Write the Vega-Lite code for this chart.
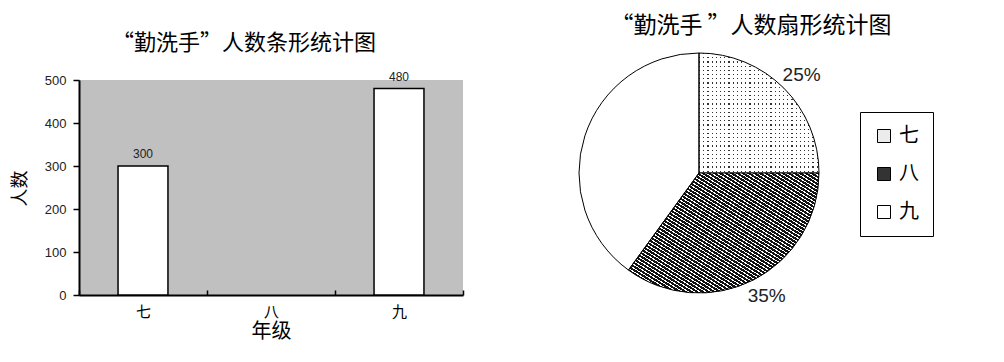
{
  "$schema": "https://vega.github.io/schema/vega-lite/v6.json",
  "padding": {"left": 11, "top": 15, "right": 5, "bottom": 5},
  "background": "white",
  "bounds": "flush",
  "spacing": 116,
  "config": {
    "view": {"stroke": null},
    "font": "Noto Sans CJK SC",
    "title": {"font": "Noto Sans CJK SC", "fontWeight": "normal", "color": "#000"},
    "legend": {
      "orient": "none", "legendX": 781, "legendY": 32, "direction": "vertical",
      "symbolType": "square", "symbolSize": 169, "symbolStrokeColor": "#000", "symbolStrokeWidth": 1,
      "labelFont": "Noto Sans CJK SC", "labelFontSize": 20, "labelColor": "#000", "labelOffset": 5,
      "strokeColor": "#000", "padding": 14, "rowPadding": 18
    }
  },
  "datasets": {
    "bars": [
      {"grade": "七", "count": 300},
      {"grade": "九", "count": 480}
    ],
    "pie": [
      {"grade": "七", "ord": 1, "pct": 25, "label": "25%"},
      {"grade": "八", "ord": 2, "pct": 35, "label": "35%"},
      {"grade": "九", "ord": 3, "pct": 40, "label": ""}
    ]
  },
  "hconcat": [
    {
      "width": 384,
      "height": 215,
      "view": {"fill": "#c0c0c0", "stroke": null},
      "title": {"text": "“勤洗手”人数条形统计图", "fontSize": 22, "frame": "group", "anchor": "middle", "dx": -27, "offset": 16},
      "data": {"name": "bars"},
      "encoding": {
        "x": {
          "field": "grade", "type": "nominal", "title": "年级",
          "scale": {"domain": ["七", "八", "九"], "paddingInner": 0, "paddingOuter": 0},
          "axis": {
            "labelAngle": 0, "labelFont": "Noto Sans CJK SC", "labelFontSize": 15, "labelColor": "#000",
            "domainColor": "#000", "domainWidth": 2, "tickColor": "#000", "tickWidth": 1.5, "tickSize": -5,
            "tickBand": "extent", "labelPadding": 14,
            "titleFont": "Noto Sans CJK SC", "titleFontSize": 20, "titleFontWeight": "normal", "titleColor": "#000",
            "titleY": 26, "titleBaseline": "top"
          }
        },
        "y": {
          "field": "count", "type": "quantitative", "title": "人数",
          "scale": {"domain": [0, 500], "nice": false},
          "axis": {
            "values": [0, 100, 200, 300, 400, 500], "grid": false,
            "domainColor": "#000", "domainWidth": 2, "tickColor": "#000", "tickSize": 6, "tickWidth": 1.5,
            "labelFont": "Liberation Sans", "labelFontSize": 13, "labelColor": "#222", "labelPadding": 7,
            "titleFont": "Noto Sans CJK SC", "titleFontSize": 18, "titleFontWeight": "normal", "titleColor": "#000",
            "titleX": -59, "titleY": 108, "titleBaseline": "middle", "titleAngle": -90
          }
        }
      },
      "layer": [
        {"mark": {"type": "bar", "fill": "white", "stroke": "#000", "strokeWidth": 1.5, "width": {"band": 0.39}}},
        {"mark": {"type": "text", "baseline": "bottom", "dy": -5, "font": "Liberation Sans", "fontSize": 12, "color": "#222"},
         "encoding": {"text": {"field": "count"}}}
      ]
    },
    {
      "width": 240,
      "height": 186,
      "title": {"text": "“勤洗手 ”人数扇形统计图", "fontSize": 23, "frame": "group", "anchor": "middle", "dx": 52, "offset": 13},
      "data": {"name": "pie"},
      "encoding": {
        "theta": {"field": "pct", "type": "quantitative", "stack": true},
        "order": {"field": "ord", "type": "quantitative"}
      },
      "layer": [
        {
          "mark": {"type": "arc", "outerRadius": 120},
          "encoding": {
            "color": {
              "field": "grade", "type": "nominal",
              "scale": {"domain": ["七", "八", "九"], "range": ["#ececec", "#333333", "#ffffff"]},
              "legend": {"title": null}
            }
          }
        },
        {
          "mark": {
            "type": "arc", "outerRadius": 120,
            "fill": {
              "gradient": "linear", "x1": 0, "y1": 0, "x2": 1, "y2": 0,
              "stops": [
                {"offset":0,"color":"#333"},{"offset":0.01,"color":"#333"},{"offset":0.01,"color":"#fff"},{"offset":0.035,"color":"#fff"},
                {"offset":0.035,"color":"#333"},{"offset":0.045,"color":"#333"},{"offset":0.045,"color":"#fff"},{"offset":0.07,"color":"#fff"},
                {"offset":0.07,"color":"#333"},{"offset":0.08,"color":"#333"},{"offset":0.08,"color":"#fff"},{"offset":0.105,"color":"#fff"},
                {"offset":0.105,"color":"#333"},{"offset":0.115,"color":"#333"},{"offset":0.115,"color":"#fff"},{"offset":0.14,"color":"#fff"},
                {"offset":0.14,"color":"#333"},{"offset":0.15,"color":"#333"},{"offset":0.15,"color":"#fff"},{"offset":0.175,"color":"#fff"},
                {"offset":0.175,"color":"#333"},{"offset":0.185,"color":"#333"},{"offset":0.185,"color":"#fff"},{"offset":0.21,"color":"#fff"},
                {"offset":0.21,"color":"#333"},{"offset":0.22,"color":"#333"},{"offset":0.22,"color":"#fff"},{"offset":0.245,"color":"#fff"},
                {"offset":0.245,"color":"#333"},{"offset":0.255,"color":"#333"},{"offset":0.255,"color":"#fff"},{"offset":0.28,"color":"#fff"},
                {"offset":0.28,"color":"#333"},{"offset":0.29,"color":"#333"},{"offset":0.29,"color":"#fff"},{"offset":0.315,"color":"#fff"},
                {"offset":0.315,"color":"#333"},{"offset":0.325,"color":"#333"},{"offset":0.325,"color":"#fff"},{"offset":0.35,"color":"#fff"},
                {"offset":0.35,"color":"#333"},{"offset":0.36,"color":"#333"},{"offset":0.36,"color":"#fff"},{"offset":0.385,"color":"#fff"},
                {"offset":0.385,"color":"#333"},{"offset":0.395,"color":"#333"},{"offset":0.395,"color":"#fff"},{"offset":0.42,"color":"#fff"},
                {"offset":0.42,"color":"#333"},{"offset":0.43,"color":"#333"},{"offset":0.43,"color":"#fff"},{"offset":0.455,"color":"#fff"},
                {"offset":0.455,"color":"#333"},{"offset":0.465,"color":"#333"},{"offset":0.465,"color":"#fff"},{"offset":0.49,"color":"#fff"},
                {"offset":0.49,"color":"#333"},{"offset":0.5,"color":"#333"},{"offset":0.5,"color":"#fff"},{"offset":0.525,"color":"#fff"},
                {"offset":0.525,"color":"#333"},{"offset":0.535,"color":"#333"},{"offset":0.535,"color":"#fff"},{"offset":0.56,"color":"#fff"},
                {"offset":0.56,"color":"#333"},{"offset":0.57,"color":"#333"},{"offset":0.57,"color":"#fff"},{"offset":0.595,"color":"#fff"},
                {"offset":0.595,"color":"#333"},{"offset":0.605,"color":"#333"},{"offset":0.605,"color":"#fff"},{"offset":0.63,"color":"#fff"},
                {"offset":0.63,"color":"#333"},{"offset":0.64,"color":"#333"},{"offset":0.64,"color":"#fff"},{"offset":0.665,"color":"#fff"},
                {"offset":0.665,"color":"#333"},{"offset":0.675,"color":"#333"},{"offset":0.675,"color":"#fff"},{"offset":0.7,"color":"#fff"},
                {"offset":0.7,"color":"#333"},{"offset":0.71,"color":"#333"},{"offset":0.71,"color":"#fff"},{"offset":0.735,"color":"#fff"},
                {"offset":0.735,"color":"#333"},{"offset":0.745,"color":"#333"},{"offset":0.745,"color":"#fff"},{"offset":0.77,"color":"#fff"},
                {"offset":0.77,"color":"#333"},{"offset":0.78,"color":"#333"},{"offset":0.78,"color":"#fff"},{"offset":0.805,"color":"#fff"},
                {"offset":0.805,"color":"#333"},{"offset":0.815,"color":"#333"},{"offset":0.815,"color":"#fff"},{"offset":0.84,"color":"#fff"},
                {"offset":0.84,"color":"#333"},{"offset":0.85,"color":"#333"},{"offset":0.85,"color":"#fff"},{"offset":0.875,"color":"#fff"},
                {"offset":0.875,"color":"#333"},{"offset":0.885,"color":"#333"},{"offset":0.885,"color":"#fff"},{"offset":0.91,"color":"#fff"},
                {"offset":0.91,"color":"#333"},{"offset":0.92,"color":"#333"},{"offset":0.92,"color":"#fff"},{"offset":0.945,"color":"#fff"},
                {"offset":0.945,"color":"#333"},{"offset":0.955,"color":"#333"},{"offset":0.955,"color":"#fff"},{"offset":0.98,"color":"#fff"},
                {"offset":0.98,"color":"#333"},{"offset":0.99,"color":"#333"},{"offset":0.99,"color":"#fff"},{"offset":1,"color":"#fff"}
              ]
            }
          },
          "encoding": {
            "fillOpacity": {"condition": {"test": "datum.grade === '七'", "value": 1}, "value": 0}
          }
        },
        {
          "mark": {
            "type": "arc", "outerRadius": 120,
            "fill": {
              "gradient": "linear", "x1": 0, "y1": 0, "x2": 0, "y2": 1,
              "stops": [
                {"offset":0,"color":"rgba(255,255,255,0)"},{"offset":0.01,"color":"rgba(255,255,255,0)"},{"offset":0.01,"color":"#fff"},{"offset":0.035,"color":"#fff"},
                {"offset":0.035,"color":"rgba(255,255,255,0)"},{"offset":0.045,"color":"rgba(255,255,255,0)"},{"offset":0.045,"color":"#fff"},{"offset":0.07,"color":"#fff"},
                {"offset":0.07,"color":"rgba(255,255,255,0)"},{"offset":0.08,"color":"rgba(255,255,255,0)"},{"offset":0.08,"color":"#fff"},{"offset":0.105,"color":"#fff"},
                {"offset":0.105,"color":"rgba(255,255,255,0)"},{"offset":0.115,"color":"rgba(255,255,255,0)"},{"offset":0.115,"color":"#fff"},{"offset":0.14,"color":"#fff"},
                {"offset":0.14,"color":"rgba(255,255,255,0)"},{"offset":0.15,"color":"rgba(255,255,255,0)"},{"offset":0.15,"color":"#fff"},{"offset":0.175,"color":"#fff"},
                {"offset":0.175,"color":"rgba(255,255,255,0)"},{"offset":0.185,"color":"rgba(255,255,255,0)"},{"offset":0.185,"color":"#fff"},{"offset":0.21,"color":"#fff"},
                {"offset":0.21,"color":"rgba(255,255,255,0)"},{"offset":0.22,"color":"rgba(255,255,255,0)"},{"offset":0.22,"color":"#fff"},{"offset":0.245,"color":"#fff"},
                {"offset":0.245,"color":"rgba(255,255,255,0)"},{"offset":0.255,"color":"rgba(255,255,255,0)"},{"offset":0.255,"color":"#fff"},{"offset":0.28,"color":"#fff"},
                {"offset":0.28,"color":"rgba(255,255,255,0)"},{"offset":0.29,"color":"rgba(255,255,255,0)"},{"offset":0.29,"color":"#fff"},{"offset":0.315,"color":"#fff"},
                {"offset":0.315,"color":"rgba(255,255,255,0)"},{"offset":0.325,"color":"rgba(255,255,255,0)"},{"offset":0.325,"color":"#fff"},{"offset":0.35,"color":"#fff"},
                {"offset":0.35,"color":"rgba(255,255,255,0)"},{"offset":0.36,"color":"rgba(255,255,255,0)"},{"offset":0.36,"color":"#fff"},{"offset":0.385,"color":"#fff"},
                {"offset":0.385,"color":"rgba(255,255,255,0)"},{"offset":0.395,"color":"rgba(255,255,255,0)"},{"offset":0.395,"color":"#fff"},{"offset":0.42,"color":"#fff"},
                {"offset":0.42,"color":"rgba(255,255,255,0)"},{"offset":0.43,"color":"rgba(255,255,255,0)"},{"offset":0.43,"color":"#fff"},{"offset":0.455,"color":"#fff"},
                {"offset":0.455,"color":"rgba(255,255,255,0)"},{"offset":0.465,"color":"rgba(255,255,255,0)"},{"offset":0.465,"color":"#fff"},{"offset":0.49,"color":"#fff"},
                {"offset":0.49,"color":"rgba(255,255,255,0)"},{"offset":0.5,"color":"rgba(255,255,255,0)"},{"offset":0.5,"color":"#fff"},{"offset":0.525,"color":"#fff"},
                {"offset":0.525,"color":"rgba(255,255,255,0)"},{"offset":0.535,"color":"rgba(255,255,255,0)"},{"offset":0.535,"color":"#fff"},{"offset":0.56,"color":"#fff"},
                {"offset":0.56,"color":"rgba(255,255,255,0)"},{"offset":0.57,"color":"rgba(255,255,255,0)"},{"offset":0.57,"color":"#fff"},{"offset":0.595,"color":"#fff"},
                {"offset":0.595,"color":"rgba(255,255,255,0)"},{"offset":0.605,"color":"rgba(255,255,255,0)"},{"offset":0.605,"color":"#fff"},{"offset":0.63,"color":"#fff"},
                {"offset":0.63,"color":"rgba(255,255,255,0)"},{"offset":0.64,"color":"rgba(255,255,255,0)"},{"offset":0.64,"color":"#fff"},{"offset":0.665,"color":"#fff"},
                {"offset":0.665,"color":"rgba(255,255,255,0)"},{"offset":0.675,"color":"rgba(255,255,255,0)"},{"offset":0.675,"color":"#fff"},{"offset":0.7,"color":"#fff"},
                {"offset":0.7,"color":"rgba(255,255,255,0)"},{"offset":0.71,"color":"rgba(255,255,255,0)"},{"offset":0.71,"color":"#fff"},{"offset":0.735,"color":"#fff"},
                {"offset":0.735,"color":"rgba(255,255,255,0)"},{"offset":0.745,"color":"rgba(255,255,255,0)"},{"offset":0.745,"color":"#fff"},{"offset":0.77,"color":"#fff"},
                {"offset":0.77,"color":"rgba(255,255,255,0)"},{"offset":0.78,"color":"rgba(255,255,255,0)"},{"offset":0.78,"color":"#fff"},{"offset":0.805,"color":"#fff"},
                {"offset":0.805,"color":"rgba(255,255,255,0)"},{"offset":0.815,"color":"rgba(255,255,255,0)"},{"offset":0.815,"color":"#fff"},{"offset":0.84,"color":"#fff"},
                {"offset":0.84,"color":"rgba(255,255,255,0)"},{"offset":0.85,"color":"rgba(255,255,255,0)"},{"offset":0.85,"color":"#fff"},{"offset":0.875,"color":"#fff"},
                {"offset":0.875,"color":"rgba(255,255,255,0)"},{"offset":0.885,"color":"rgba(255,255,255,0)"},{"offset":0.885,"color":"#fff"},{"offset":0.91,"color":"#fff"},
                {"offset":0.91,"color":"rgba(255,255,255,0)"},{"offset":0.92,"color":"rgba(255,255,255,0)"},{"offset":0.92,"color":"#fff"},{"offset":0.945,"color":"#fff"},
                {"offset":0.945,"color":"rgba(255,255,255,0)"},{"offset":0.955,"color":"rgba(255,255,255,0)"},{"offset":0.955,"color":"#fff"},{"offset":0.98,"color":"#fff"},
                {"offset":0.98,"color":"rgba(255,255,255,0)"},{"offset":0.99,"color":"rgba(255,255,255,0)"},{"offset":0.99,"color":"#fff"},{"offset":1,"color":"#fff"}
              ]
            }
          },
          "encoding": {
            "fillOpacity": {"condition": {"test": "datum.grade === '七'", "value": 1}, "value": 0}
          }
        },
        {
          "mark": {
            "type": "arc", "outerRadius": 120, "stroke": "#000", "strokeWidth": 1,
            "fill": {
              "gradient": "linear", "x1": 0, "y1": 1, "x2": 1, "y2": 0,
              "stops": [
                {"offset":0,"color":"#111"},{"offset":0.01,"color":"#111"},{"offset":0.01,"color":"#fff"},{"offset":0.015,"color":"#fff"},
                {"offset":0.015,"color":"#111"},{"offset":0.025,"color":"#111"},{"offset":0.025,"color":"#fff"},{"offset":0.03,"color":"#fff"},
                {"offset":0.03,"color":"#111"},{"offset":0.04,"color":"#111"},{"offset":0.04,"color":"#fff"},{"offset":0.045,"color":"#fff"},
                {"offset":0.045,"color":"#111"},{"offset":0.055,"color":"#111"},{"offset":0.055,"color":"#fff"},{"offset":0.06,"color":"#fff"},
                {"offset":0.06,"color":"#111"},{"offset":0.07,"color":"#111"},{"offset":0.07,"color":"#fff"},{"offset":0.075,"color":"#fff"},
                {"offset":0.075,"color":"#111"},{"offset":0.085,"color":"#111"},{"offset":0.085,"color":"#fff"},{"offset":0.09,"color":"#fff"},
                {"offset":0.09,"color":"#111"},{"offset":0.1,"color":"#111"},{"offset":0.1,"color":"#fff"},{"offset":0.105,"color":"#fff"},
                {"offset":0.105,"color":"#111"},{"offset":0.115,"color":"#111"},{"offset":0.115,"color":"#fff"},{"offset":0.12,"color":"#fff"},
                {"offset":0.12,"color":"#111"},{"offset":0.13,"color":"#111"},{"offset":0.13,"color":"#fff"},{"offset":0.135,"color":"#fff"},
                {"offset":0.135,"color":"#111"},{"offset":0.145,"color":"#111"},{"offset":0.145,"color":"#fff"},{"offset":0.15,"color":"#fff"},
                {"offset":0.15,"color":"#111"},{"offset":0.16,"color":"#111"},{"offset":0.16,"color":"#fff"},{"offset":0.165,"color":"#fff"},
                {"offset":0.165,"color":"#111"},{"offset":0.175,"color":"#111"},{"offset":0.175,"color":"#fff"},{"offset":0.18,"color":"#fff"},
                {"offset":0.18,"color":"#111"},{"offset":0.19,"color":"#111"},{"offset":0.19,"color":"#fff"},{"offset":0.195,"color":"#fff"},
                {"offset":0.195,"color":"#111"},{"offset":0.205,"color":"#111"},{"offset":0.205,"color":"#fff"},{"offset":0.21,"color":"#fff"},
                {"offset":0.21,"color":"#111"},{"offset":0.22,"color":"#111"},{"offset":0.22,"color":"#fff"},{"offset":0.225,"color":"#fff"},
                {"offset":0.225,"color":"#111"},{"offset":0.235,"color":"#111"},{"offset":0.235,"color":"#fff"},{"offset":0.24,"color":"#fff"},
                {"offset":0.24,"color":"#111"},{"offset":0.25,"color":"#111"},{"offset":0.25,"color":"#fff"},{"offset":0.255,"color":"#fff"},
                {"offset":0.255,"color":"#111"},{"offset":0.265,"color":"#111"},{"offset":0.265,"color":"#fff"},{"offset":0.27,"color":"#fff"},
                {"offset":0.27,"color":"#111"},{"offset":0.28,"color":"#111"},{"offset":0.28,"color":"#fff"},{"offset":0.285,"color":"#fff"},
                {"offset":0.285,"color":"#111"},{"offset":0.295,"color":"#111"},{"offset":0.295,"color":"#fff"},{"offset":0.3,"color":"#fff"},
                {"offset":0.3,"color":"#111"},{"offset":0.31,"color":"#111"},{"offset":0.31,"color":"#fff"},{"offset":0.315,"color":"#fff"},
                {"offset":0.315,"color":"#111"},{"offset":0.325,"color":"#111"},{"offset":0.325,"color":"#fff"},{"offset":0.33,"color":"#fff"},
                {"offset":0.33,"color":"#111"},{"offset":0.34,"color":"#111"},{"offset":0.34,"color":"#fff"},{"offset":0.345,"color":"#fff"},
                {"offset":0.345,"color":"#111"},{"offset":0.355,"color":"#111"},{"offset":0.355,"color":"#fff"},{"offset":0.36,"color":"#fff"},
                {"offset":0.36,"color":"#111"},{"offset":0.37,"color":"#111"},{"offset":0.37,"color":"#fff"},{"offset":0.375,"color":"#fff"},
                {"offset":0.375,"color":"#111"},{"offset":0.385,"color":"#111"},{"offset":0.385,"color":"#fff"},{"offset":0.39,"color":"#fff"},
                {"offset":0.39,"color":"#111"},{"offset":0.4,"color":"#111"},{"offset":0.4,"color":"#fff"},{"offset":0.405,"color":"#fff"},
                {"offset":0.405,"color":"#111"},{"offset":0.415,"color":"#111"},{"offset":0.415,"color":"#fff"},{"offset":0.42,"color":"#fff"},
                {"offset":0.42,"color":"#111"},{"offset":0.43,"color":"#111"},{"offset":0.43,"color":"#fff"},{"offset":0.435,"color":"#fff"},
                {"offset":0.435,"color":"#111"},{"offset":0.445,"color":"#111"},{"offset":0.445,"color":"#fff"},{"offset":0.45,"color":"#fff"},
                {"offset":0.45,"color":"#111"},{"offset":0.46,"color":"#111"},{"offset":0.46,"color":"#fff"},{"offset":0.465,"color":"#fff"},
                {"offset":0.465,"color":"#111"},{"offset":0.475,"color":"#111"},{"offset":0.475,"color":"#fff"},{"offset":0.48,"color":"#fff"},
                {"offset":0.48,"color":"#111"},{"offset":0.49,"color":"#111"},{"offset":0.49,"color":"#fff"},{"offset":0.495,"color":"#fff"},
                {"offset":0.495,"color":"#111"},{"offset":0.505,"color":"#111"},{"offset":0.505,"color":"#fff"},{"offset":0.51,"color":"#fff"},
                {"offset":0.51,"color":"#111"},{"offset":0.52,"color":"#111"},{"offset":0.52,"color":"#fff"},{"offset":0.525,"color":"#fff"},
                {"offset":0.525,"color":"#111"},{"offset":0.535,"color":"#111"},{"offset":0.535,"color":"#fff"},{"offset":0.54,"color":"#fff"},
                {"offset":0.54,"color":"#111"},{"offset":0.55,"color":"#111"},{"offset":0.55,"color":"#fff"},{"offset":0.555,"color":"#fff"},
                {"offset":0.555,"color":"#111"},{"offset":0.565,"color":"#111"},{"offset":0.565,"color":"#fff"},{"offset":0.57,"color":"#fff"},
                {"offset":0.57,"color":"#111"},{"offset":0.58,"color":"#111"},{"offset":0.58,"color":"#fff"},{"offset":0.585,"color":"#fff"},
                {"offset":0.585,"color":"#111"},{"offset":0.595,"color":"#111"},{"offset":0.595,"color":"#fff"},{"offset":0.6,"color":"#fff"},
                {"offset":0.6,"color":"#111"},{"offset":0.61,"color":"#111"},{"offset":0.61,"color":"#fff"},{"offset":0.615,"color":"#fff"},
                {"offset":0.615,"color":"#111"},{"offset":0.625,"color":"#111"},{"offset":0.625,"color":"#fff"},{"offset":0.63,"color":"#fff"},
                {"offset":0.63,"color":"#111"},{"offset":0.64,"color":"#111"},{"offset":0.64,"color":"#fff"},{"offset":0.645,"color":"#fff"},
                {"offset":0.645,"color":"#111"},{"offset":0.655,"color":"#111"},{"offset":0.655,"color":"#fff"},{"offset":0.66,"color":"#fff"},
                {"offset":0.66,"color":"#111"},{"offset":0.67,"color":"#111"},{"offset":0.67,"color":"#fff"},{"offset":0.675,"color":"#fff"},
                {"offset":0.675,"color":"#111"},{"offset":0.685,"color":"#111"},{"offset":0.685,"color":"#fff"},{"offset":0.69,"color":"#fff"},
                {"offset":0.69,"color":"#111"},{"offset":0.7,"color":"#111"},{"offset":0.7,"color":"#fff"},{"offset":0.705,"color":"#fff"},
                {"offset":0.705,"color":"#111"},{"offset":0.715,"color":"#111"},{"offset":0.715,"color":"#fff"},{"offset":0.72,"color":"#fff"},
                {"offset":0.72,"color":"#111"},{"offset":0.73,"color":"#111"},{"offset":0.73,"color":"#fff"},{"offset":0.735,"color":"#fff"},
                {"offset":0.735,"color":"#111"},{"offset":0.745,"color":"#111"},{"offset":0.745,"color":"#fff"},{"offset":0.75,"color":"#fff"},
                {"offset":0.75,"color":"#111"},{"offset":0.76,"color":"#111"},{"offset":0.76,"color":"#fff"},{"offset":0.765,"color":"#fff"},
                {"offset":0.765,"color":"#111"},{"offset":0.775,"color":"#111"},{"offset":0.775,"color":"#fff"},{"offset":0.78,"color":"#fff"},
                {"offset":0.78,"color":"#111"},{"offset":0.79,"color":"#111"},{"offset":0.79,"color":"#fff"},{"offset":0.795,"color":"#fff"},
                {"offset":0.795,"color":"#111"},{"offset":0.805,"color":"#111"},{"offset":0.805,"color":"#fff"},{"offset":0.81,"color":"#fff"},
                {"offset":0.81,"color":"#111"},{"offset":0.82,"color":"#111"},{"offset":0.82,"color":"#fff"},{"offset":0.825,"color":"#fff"},
                {"offset":0.825,"color":"#111"},{"offset":0.835,"color":"#111"},{"offset":0.835,"color":"#fff"},{"offset":0.84,"color":"#fff"},
                {"offset":0.84,"color":"#111"},{"offset":0.85,"color":"#111"},{"offset":0.85,"color":"#fff"},{"offset":0.855,"color":"#fff"},
                {"offset":0.855,"color":"#111"},{"offset":0.865,"color":"#111"},{"offset":0.865,"color":"#fff"},{"offset":0.87,"color":"#fff"},
                {"offset":0.87,"color":"#111"},{"offset":0.88,"color":"#111"},{"offset":0.88,"color":"#fff"},{"offset":0.885,"color":"#fff"},
                {"offset":0.885,"color":"#111"},{"offset":0.895,"color":"#111"},{"offset":0.895,"color":"#fff"},{"offset":0.9,"color":"#fff"},
                {"offset":0.9,"color":"#111"},{"offset":0.91,"color":"#111"},{"offset":0.91,"color":"#fff"},{"offset":0.915,"color":"#fff"},
                {"offset":0.915,"color":"#111"},{"offset":0.925,"color":"#111"},{"offset":0.925,"color":"#fff"},{"offset":0.93,"color":"#fff"},
                {"offset":0.93,"color":"#111"},{"offset":0.94,"color":"#111"},{"offset":0.94,"color":"#fff"},{"offset":0.945,"color":"#fff"},
                {"offset":0.945,"color":"#111"},{"offset":0.955,"color":"#111"},{"offset":0.955,"color":"#fff"},{"offset":0.96,"color":"#fff"},
                {"offset":0.96,"color":"#111"},{"offset":0.97,"color":"#111"},{"offset":0.97,"color":"#fff"},{"offset":0.975,"color":"#fff"},
                {"offset":0.975,"color":"#111"},{"offset":0.985,"color":"#111"},{"offset":0.985,"color":"#fff"},{"offset":0.99,"color":"#fff"},
                {"offset":0.99,"color":"#111"},{"offset":1,"color":"#111"}
              ]
            }
          },
          "encoding": {
            "fillOpacity": {"condition": {"test": "datum.grade === '八'", "value": 1}, "value": 0}
          }
        },
        {
          "mark": {"type": "text", "radius": 138, "dx": 5, "dy": 0, "font": "Liberation Sans", "fontSize": 19, "color": "#222"},
          "encoding": {"text": {"field": "label"}}
        }
      ]
    }
  ]
}
